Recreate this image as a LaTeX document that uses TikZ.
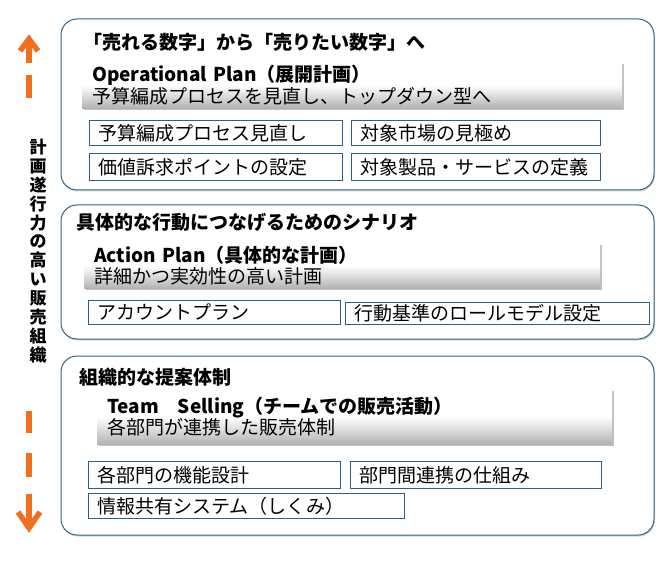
\documentclass[tikz,border=0pt]{standalone}
\usepackage{fontspec}
\setmainfont{Noto Sans CJK JP}
\usetikzlibrary{shadows}

\definecolor{panelline}{HTML}{2E6385}
\definecolor{itemline}{HTML}{2F6080}
\definecolor{arroworange}{HTML}{F07021}

\tikzset{
	panel/.style={draw=panelline, line width=1pt, rounded corners=16pt, fill=white, drop shadow={shadow xshift=1pt, shadow yshift=-1.5pt, opacity=0.35}},
	planbox/.style={anchor=north west, top color=white, bottom color=black!30, middle color=white, drop shadow={shadow xshift=1.5pt, shadow yshift=-2pt, opacity=0.5}, inner xsep=10pt, inner ysep=0pt, align=left, font=\fontsize{19}{21.5}\selectfont},
	itembox/.style={draw=itemline, line width=0.7pt, fill=white, anchor=north west, inner xsep=9pt, inner ysep=0pt, align=left, font=\fontsize{19}{20}\selectfont},
	paneltitle/.style={anchor=west, inner sep=0pt, font=\fontsize{19}{20}\selectfont\bfseries},
	dashbar/.style={draw=arroworange, line width=5.5pt},
	barbhead/.style={draw=arroworange, line width=5.5pt, line join=miter, miter limit=20}
}

\begin{document}
\begin{tikzpicture}[x=1pt, y=-1pt]
	\useasboundingbox (0,0) rectangle (660,561);

	% panels
	\draw[panel] (61,19) rectangle (654,190);
	\draw[panel] (61,205) rectangle (654,339);
	\draw[panel] (61,356) rectangle (654,535);

	% panel 1
	\node[paneltitle] (title1) at (83,42) {「売れる数字」から「売りたい数字」へ};
	\node[planbox, minimum width=540pt, minimum height=46pt, text width=520pt] (opplan) at (82,62) {{\bfseries Operational Plan（展開計画）}\\予算編成プロセスを見直し、トップダウン型へ};
	\node[itembox, minimum width=253pt, minimum height=25pt, text width=235pt] (op1) at (89,120) {予算編成プロセス見直し};
	\node[itembox, minimum width=249pt, minimum height=25pt, text width=231pt] (op2) at (351,120) {対象市場の見極め};
	\node[itembox, minimum width=253pt, minimum height=27pt, text width=235pt] (op3) at (89,153) {価値訴求ポイントの設定};
	\node[itembox, minimum width=249pt, minimum height=27pt, text width=231pt] (op4) at (351,153) {対象製品・サービスの定義};

	% panel 2
	\node[paneltitle] (title2) at (76,222) {具体的な行動につなげるためのシナリオ};
	\node[planbox, minimum width=516pt, minimum height=45pt, text width=496pt] (acplan) at (84,243) {{\bfseries Action Plan（具体的な計画）}\\詳細かつ実効性の高い計画};
	\node[itembox, minimum width=252pt, minimum height=24pt, text width=234pt] (ac1) at (88,300) {アカウントプラン};
	\node[itembox, minimum width=304pt, minimum height=22pt, text width=286pt] (ac2) at (345,302) {行動基準のロールモデル設定};

	% panel 3
	\node[paneltitle] (title3) at (79,377) {組織的な提案体制};
	\node[planbox, minimum width=515pt, minimum height=55pt, text width=495pt] (tsplan) at (97,389) {{\bfseries Team　Selling（チームでの販売活動）}\\各部門が連携した販売体制};
	\node[itembox, minimum width=252pt, minimum height=27pt, text width=234pt] (ts1) at (88,461) {各部門の機能設計};
	\node[itembox, minimum width=251pt, minimum height=27pt, text width=233pt] (ts2) at (350,461) {部門間連携の仕組み};
	\node[itembox, minimum width=316pt, minimum height=25pt, text width=298pt] (ts3) at (88,493) {情報共有システム（しくみ）};

	% left axis: up arrow, dashes, label, dashes, down arrow
	\draw[dashbar] (29,63) -- (29,42);
	\draw[barbhead] (20,51) -- (29,39) -- (38,51);
	\draw[dashbar] (29,75) -- (29,98);
	\node[inner sep=0pt, align=center, font=\fontsize{17}{18.9}\selectfont\bfseries] (axislabel) at (38,251) {計\\画\\遂\\行\\力\\の\\高\\い\\販\\売\\組\\織};
	\draw[dashbar] (29,411) -- (29,433);
	\draw[dashbar] (29,453) -- (29,477);
	\draw[dashbar] (29,494) -- (29,526);
	\draw[barbhead] (18,512) -- (29,528) -- (40,512);
\end{tikzpicture}
\end{document}
